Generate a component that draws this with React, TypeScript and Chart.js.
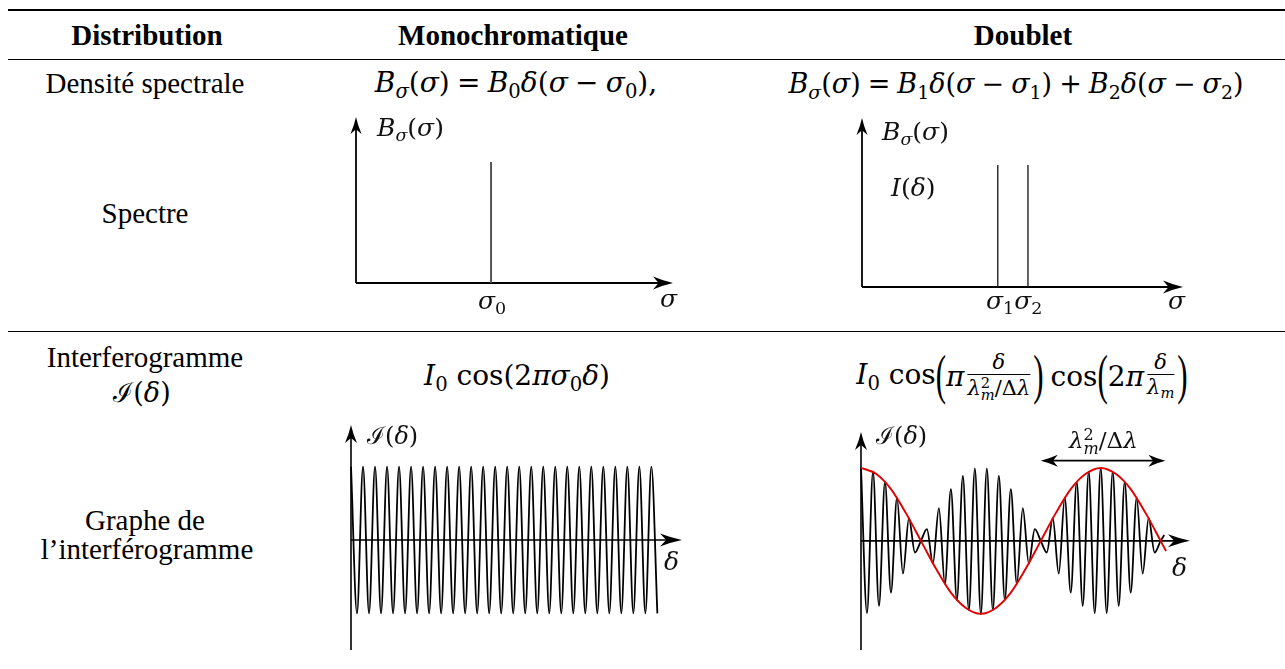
import React, { useEffect, useRef } from "react";
import { Chart, registerables } from "chart.js";

Chart.register(...registerables);

// ---------------- Data ----------------
// Spectra (sigma in fraction of axis length, B normalised)
const monoSpectrumSigma = [0.426];
const monoSpectrumB = [1];
const doubletSpectrumSigma = [0.423, 0.517];
const doubletSpectrumB = [1, 1];

// Monochromatic interferogram: extrema positions (half-period index) and values
const monoDelta = [
  0, 1, 2, 3, 4, 5, 6, 7, 8, 9, 10, 11, 12, 13, 14, 15, 16, 17, 18, 19, 20, 21, 22, 23, 24, 25,
  26, 27, 28, 29, 30, 31, 32, 33, 34, 35, 36, 37, 38, 39, 40, 41, 42, 43, 44, 45, 46, 47, 48, 49, 50, 51,
];
const monoI = [
  1, -1, 1, -1, 1, -1, 1, -1, 1, -1, 1, -1, 1, -1, 1, -1, 1, -1, 1, -1, 1, -1, 1, -1, 1, -1,
  1, -1, 1, -1, 1, -1, 1, -1, 1, -1, 1, -1, 1, -1, 1, -1, 1, -1, 1, -1, 1, -1, 1, -1, 1, -1,
];

// Doublet interferogram: extrema positions and values
const doubletDelta = [
  0, 1, 2, 3, 4, 5, 6, 7, 8, 9, 10, 11, 12, 13, 14, 15, 16, 17, 18, 19, 20, 21, 22, 23, 24, 25,
  26, 27, 28, 29, 30, 31, 32, 33, 34, 35, 36, 37, 38, 39, 40, 41, 42, 43, 44, 45, 46, 47, 48, 49, 50, 50.6,
];
const doubletI = [
  1, -0.99, 0.95, -0.89, 0.81, -0.71, 0.59, -0.45, 0.31, -0.16, 0, 0.16, -0.31, 0.45, -0.59, 0.71,
  -0.81, 0.89, -0.95, 0.99, -1, 0.99, -0.95, 0.89, -0.81, 0.71, -0.59, 0.45, -0.31, 0.16, 0, -0.16,
  0.31, -0.45, 0.59, -0.71, 0.81, -0.89, 0.95, -0.99, 1, -0.99, 0.95, -0.89, 0.81, -0.71, 0.59,
  -0.45, 0.31, -0.16, 0, 0.08,
];

// Red envelope of the doublet
const envelopeDelta = [
  0, 2.5, 5, 7.5, 10, 12.5, 15, 17.5, 20, 22.5, 25, 27.5, 30, 32.5, 35, 37.5, 40, 42.5, 45, 47.5, 50, 50.9,
];
const envelopeI = [
  1, 0.92, 0.71, 0.38, 0, -0.38, -0.71, -0.92, -1, -0.92, -0.71, -0.38, 0, 0.38, 0.71, 0.92, 1, 0.92,
  0.71, 0.38, 0, -0.14,
];

// Span of the lambda_m^2 / Delta lambda arrow
const periodSpan = [30, 50.8];
const periodLevel = [1.1];

// ---------------- Helpers ----------------
const serif = "'Liberation Serif', 'Times New Roman', serif";
const mathFont = "'DejaVu Serif', 'Liberation Serif', serif";

type Head = { len: number; half: number };

function drawHead(ctx: CanvasRenderingContext2D, tx: number, ty: number, angle: number, h: Head) {
  ctx.save();
  ctx.translate(tx, ty);
  ctx.rotate(angle);
  ctx.beginPath();
  ctx.moveTo(0, 0);
  ctx.quadraticCurveTo(-h.len * 0.45, -h.half * 0.3, -h.len, -h.half);
  ctx.lineTo(-h.len * 0.72, 0);
  ctx.lineTo(-h.len, h.half);
  ctx.quadraticCurveTo(-h.len * 0.45, h.half * 0.3, 0, 0);
  ctx.closePath();
  ctx.fill();
  ctx.restore();
}

const axesArrowPlugin = {
  id: "axesArrows",
  beforeDatasetsDraw(chart: any, _args: any, opts: any) {
    const { ctx } = chart;
    const xs = chart.scales.x;
    const ys = chart.scales.y;
    const x0 = xs.getPixelForValue(0);
    const y0 = ys.getPixelForValue(0);
    const xEnd = xs.getPixelForValue(xs.max);
    const yTop = ys.getPixelForValue(ys.max);
    const yBot = ys.getPixelForValue(ys.min);
    ctx.save();
    ctx.strokeStyle = opts.color || "#000";
    ctx.fillStyle = opts.color || "#000";
    ctx.lineWidth = opts.lineWidth || 1.5;
    ctx.beginPath();
    ctx.moveTo(x0, y0);
    ctx.lineTo(xEnd - opts.xHead.len * 0.6, y0);
    ctx.stroke();
    ctx.beginPath();
    ctx.moveTo(x0, yBot);
    ctx.lineTo(x0, yTop + opts.yHead.len * 0.6);
    ctx.stroke();
    drawHead(ctx, xEnd, y0, 0, opts.xHead);
    drawHead(ctx, x0, yTop, -Math.PI / 2, opts.yHead);
    if (opts.span) {
      const a = xs.getPixelForValue(opts.span[0]);
      const b = xs.getPixelForValue(opts.span[1]);
      const yy = ys.getPixelForValue(opts.spanLevel);
      ctx.lineWidth = 1.6;
      ctx.beginPath();
      ctx.moveTo(a + 8, yy);
      ctx.lineTo(b - 8, yy);
      ctx.stroke();
      drawHead(ctx, b, yy, 0, opts.spanHead);
      drawHead(ctx, a, yy, Math.PI, opts.spanHead);
    }
    ctx.restore();
  },
};

type Area = { left: number; right: number; top: number; bottom: number };

function PlotChart({ area, build }: { area: Area; build: () => any }) {
  const ref = useRef<HTMLCanvasElement>(null);
  const pad = 30;
  const w = area.right - area.left + 2 * pad;
  const h = area.bottom - area.top + 2 * pad;
  useEffect(() => {
    const cfg = build();
    cfg.options.layout = { padding: pad };
    const chart = new Chart(ref.current as HTMLCanvasElement, cfg);
    return () => chart.destroy();
  }, []);
  return (
    <canvas
      ref={ref}
      width={w}
      height={h}
      style={{ position: "absolute", left: area.left - pad, top: area.top - pad, width: w, height: h }}
    />
  );
}

function baseOptions(xMin: number, xMax: number, yMin: number, yMax: number, arrows: any) {
  return {
    animation: false,
    responsive: false,
    events: [],
    plugins: { legend: { display: false }, tooltip: { enabled: false }, axesArrows: arrows },
    scales: {
      x: { type: "linear", min: xMin, max: xMax, display: false },
      y: { type: "linear", min: yMin, max: yMax, display: false },
    },
  };
}

function spectrumConfig(sig: number[], b: number[], yMax: number, color: string, width: number) {
  return {
    type: "line",
    data: {
      datasets: sig.map((s, i) => ({
        data: [
          { x: s, y: 0 },
          { x: s, y: b[i] },
        ],
        borderColor: color,
        borderWidth: width,
        pointRadius: 0,
        fill: false,
        clip: false,
      })),
    },
    options: baseOptions(0, 1, 0, yMax, {
      lineWidth: 1.8,
      xHead: { len: 20, half: 6.5 },
      yHead: { len: 17, half: 5.5 },
    }),
    plugins: [axesArrowPlugin],
  };
}

function waveDataset(xs: number[], ys: number[], color: string, width: number) {
  return {
    data: xs.map((x, i) => ({ x, y: ys[i] })),
    borderColor: color,
    borderWidth: width,
    pointRadius: 0,
    fill: false,
    cubicInterpolationMode: "monotone",
    clip: false,
  };
}

// ---------------- Text helpers ----------------
function Txt({
  x,
  base,
  size = 29,
  bold = false,
  center = true,
  color = "#000",
  math = false,
  children,
}: {
  x: number;
  base: number;
  size?: number;
  bold?: boolean;
  center?: boolean;
  color?: string;
  math?: boolean;
  children: any;
}) {
  const asc = math ? 0.86 : 0.838;
  return (
    <div
      style={{
        position: "absolute",
        left: x,
        top: base - size * asc,
        fontFamily: math ? mathFont : serif,
        fontSize: size,
        lineHeight: 1,
        fontWeight: bold ? 700 : 400,
        whiteSpace: "nowrap",
        transform: center ? "translateX(-50%)" : undefined,
        color,
      }}
    >
      {children}
    </div>
  );
}

const I = ({ children }: { children: any }) => <i style={{ fontStyle: "italic" }}>{children}</i>;
const Sub = ({ children }: { children: any }) => (
  <span style={{ fontSize: "0.7em", verticalAlign: "-0.3em" }}>{children}</span>
);
const Op = ({ c }: { c: string }) => <span style={{ margin: "0 0.26em" }}>{c}</span>;
const SupSub = ({ sup, sub }: { sup: any; sub: any }) => (
  <span
    style={{
      display: "inline-block",
      verticalAlign: "-0.35em",
      lineHeight: 0.85,
      fontSize: "0.7em",
      textAlign: "left",
    }}
  >
    <span style={{ display: "block" }}>{sup}</span>
    <span style={{ display: "block", fontStyle: "italic" }}>{sub}</span>
  </span>
);
const BigParen = ({ c }: { c: string }) => (
  <span
    style={{
      display: "inline-block",
      transform: "translateY(-2px) scaleY(1.75)",
      lineHeight: 1,
      fontFamily: serif,
      fontSize: 31,
    }}
  >
    {c}
  </span>
);
const Frac = ({ num, den }: { num: any; den: any }) => (
  <span
    style={{
      display: "inline-flex",
      flexDirection: "column",
      alignItems: "center",
      fontSize: 21,
      lineHeight: 1,
      padding: "0 3px",
    }}
  >
    <span style={{ paddingBottom: 1 }}>{num}</span>
    <span style={{ alignSelf: "stretch", borderTop: "1px solid #000" }} />
    <span style={{ paddingTop: 2 }}>{den}</span>
  </span>
);

// ---------------- App ----------------
export default function App() {
  const rule = (top: number, h: number) => (
    <div style={{ position: "absolute", left: 8, top, width: 1277, height: h, background: "#000" }} />
  );
  const lc = "#111";

  return (
    <div style={{ position: "absolute", left: 0, top: 0, width: 1285, height: 669, background: "#fff", overflow: "hidden" }}>
      {rule(9, 2)}
      {rule(59, 1)}
      {rule(331, 1)}

      {/* Header */}
      <Txt x={147} base={45} bold>Distribution</Txt>
      <Txt x={513} base={45} bold>Monochromatique</Txt>
      <Txt x={1023} base={45} bold>Doublet</Txt>

      {/* Row 1 */}
      <Txt x={145} base={93}>Densité spectrale</Txt>
      <Txt x={516} base={93} size={28} math>
        <I>B</I>
        <Sub><I>σ</I></Sub>(<I>σ</I>)<Op c="=" />
        <I>B</I>
        <Sub>0</Sub>
        <I>δ</I>(<I>σ</I>
        <Op c="−" />
        <I>σ</I>
        <Sub>0</Sub>),
      </Txt>
      <Txt x={1016} base={93} size={27} math>
        <I>B</I>
        <Sub><I>σ</I></Sub>(<I>σ</I>)<Op c="=" />
        <I>B</I>
        <Sub>1</Sub>
        <I>δ</I>(<I>σ</I>
        <Op c="−" />
        <I>σ</I>
        <Sub>1</Sub>)<Op c="+" />
        <I>B</I>
        <Sub>2</Sub>
        <I>δ</I>(<I>σ</I>
        <Op c="−" />
        <I>σ</I>
        <Sub>2</Sub>)
      </Txt>
      <Txt x={145} base={223}>Spectre</Txt>

      {/* Spectrum plots */}
      <PlotChart
        area={{ left: 356, right: 673, top: 117, bottom: 283 }}
        build={() => spectrumConfig(monoSpectrumSigma, monoSpectrumB, 1.372, "#555", 2)}
      />
      <PlotChart
        area={{ left: 862, right: 1183, top: 118, bottom: 287 }}
        build={() => spectrumConfig(doubletSpectrumSigma, doubletSpectrumB, 1.386, "#222", 1.4)}
      />
      <Txt x={377} base={136} size={25} center={false} color={lc} math>
        <I>B</I>
        <Sub><I>σ</I></Sub>(<I>σ</I>)
      </Txt>
      <Txt x={478} base={309} size={25} center={false} color={lc} math>
        <I>σ</I>
        <Sub>0</Sub>
      </Txt>
      <Txt x={660} base={307} size={25} center={false} color={lc} math>
        <I>σ</I>
      </Txt>
      <Txt x={882} base={140} size={25} center={false} color={lc} math>
        <I>B</I>
        <Sub><I>σ</I></Sub>(<I>σ</I>)
      </Txt>
      <Txt x={891} base={196} size={25} center={false} color={lc} math>
        <I>I</I>(<I>δ</I>)
      </Txt>
      <Txt x={986} base={309} size={25} center={false} color={lc} math>
        <I>σ</I>
        <Sub>1</Sub>
        <I>σ</I>
        <Sub>2</Sub>
      </Txt>
      <Txt x={1168} base={309} size={25} center={false} color={lc} math>
        <I>σ</I>
      </Txt>

      {/* Row 3 */}
      <Txt x={145} base={367}>Interferogramme</Txt>
      <Txt x={142} base={402} size={27} math>
        ℐ(<I>δ</I>)
      </Txt>
      <Txt x={517} base={386} size={28} math>
        <I>I</I>
        <Sub>0</Sub> cos(2<I>π</I>
        <I>σ</I>
        <Sub>0</Sub>
        <I>δ</I>)
      </Txt>
      <div
        style={{
          position: "absolute",
          left: 1022,
          top: 377,
          transform: "translate(-50%, -50%)",
          display: "flex",
          alignItems: "center",
          fontFamily: mathFont,
          fontSize: 28,
          lineHeight: 1,
          whiteSpace: "nowrap",
        }}
      >
        <span>
          <I>I</I>
          <Sub>0</Sub> cos
        </span>
        <BigParen c="(" />
        <span>
          <I>π</I>
        </span>
        <Frac
          num={<I>δ</I>}
          den={
            <span>
              <I>λ</I>
              <SupSub sup="2" sub="m" />/Δ<I>λ</I>
            </span>
          }
        />
        <BigParen c=")" />
        <span style={{ marginLeft: 7 }}>cos</span>
        <BigParen c="(" />
        <span>
          2<I>π</I>
        </span>
        <Frac
          num={<I>δ</I>}
          den={
            <span>
              <I>λ</I>
              <Sub><I>m</I></Sub>
            </span>
          }
        />
        <BigParen c=")" />
      </div>
      <Txt x={145} base={530}>Graphe de</Txt>
      <Txt x={147} base={559}>l’interférogramme</Txt>

      {/* Interferograms */}
      <PlotChart
        area={{ left: 351, right: 682, top: 425, bottom: 650 }}
        build={() => ({
          type: "line",
          data: { datasets: [waveDataset(monoDelta, monoI, "#000", 1.8)] },
          options: baseOptions(0, 55.1, -1.5, 1.569, {
            lineWidth: 1.6,
            xHead: { len: 22, half: 6.5 },
            yHead: { len: 18, half: 6 },
          }),
          plugins: [axesArrowPlugin],
        })}
      />
      <PlotChart
        area={{ left: 861, right: 1190, top: 432, bottom: 650 }}
        build={() => ({
          type: "line",
          data: {
            datasets: [
              waveDataset(envelopeDelta, envelopeI, "#e00000", 1.9),
              waveDataset(doubletDelta, doubletI, "#000", 1.8),
            ],
          },
          options: baseOptions(0, 54.9, -1.497, 1.493, {
            lineWidth: 1.6,
            xHead: { len: 22, half: 6.5 },
            yHead: { len: 18, half: 6 },
            span: periodSpan,
            spanLevel: periodLevel[0],
            spanHead: { len: 17, half: 6 },
          }),
          plugins: [axesArrowPlugin],
        })}
      />
      <Txt x={367} base={445} size={24} center={false} color={lc} math>
        ℐ(<I>δ</I>)
      </Txt>
      <Txt x={664} base={570} size={25} center={false} color={lc} math>
        <I>δ</I>
      </Txt>
      <Txt x={876} base={445} size={24} center={false} color={lc} math>
        ℐ(<I>δ</I>)
      </Txt>
      <Txt x={1069} base={448} size={23} center={false} color={lc} math>
        <I>λ</I>
        <SupSub sup="2" sub="m" />/Δ<I>λ</I>
      </Txt>
      <Txt x={1172} base={576} size={25} center={false} color={lc} math>
        <I>δ</I>
      </Txt>
    </div>
  );
}
